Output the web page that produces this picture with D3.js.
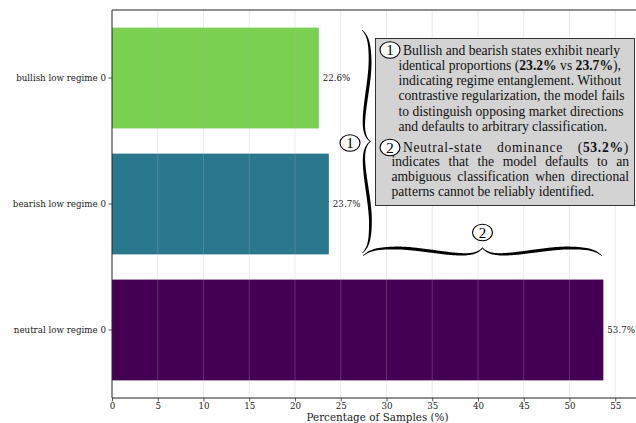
<!DOCTYPE html>
<html>
<head>
<meta charset="utf-8">
<script src="https://cdn.jsdelivr.net/npm/d3@7"></script>
<style>
  html, body { margin: 0; padding: 0; background: #ffffff; }
  svg { display: block; }
</style>
</head>
<body>
<svg id="chart" width="636" height="423"></svg>
<script>
// ---- data ----
const categories = ["bullish low regime 0", "bearish low regime 0", "neutral low regime 0"];
const percentages = [22.6, 23.7, 53.7];
const barColors = ["#7ad151", "#2a788e", "#440154"];
const xTickValues = [0, 5, 10, 15, 20, 25, 30, 35, 40, 45, 50, 55];
const xAxisTitle = "Percentage of Samples (%)";

// annotation paragraphs, one entry per line; bold runs flagged
const para1Lines = [
  [{t: "Bullish and bearish states exhibit nearly"}],
  [{t: "identical proportions ("}, {t: "23.2%", b: true}, {t: " vs "}, {t: "23.7%", b: true}, {t: "),"}],
  [{t: "indicating regime entanglement. Without"}],
  [{t: "contrastive regularization, the model fails"}],
  [{t: "to distinguish opposing market directions"}],
  [{t: "and defaults to arbitrary classification."}]
];
const para2Lines = [
  [{t: "Neutral-state dominance ("}, {t: "53.2%", b: true}, {t: ")"}],
  [{t: "indicates that the model defaults to an"}],
  [{t: "ambiguous classification when directional"}],
  [{t: "patterns cannot be reliably identified."}]
];

// ---- layout ----
const svg = d3.select("#chart");
const plot = {left: 112, right: 636, top: 10, bottom: 398};

const x = d3.scaleLinear().domain([0, 57.27]).range([plot.left, plot.right]);
const y = d3.scaleBand().domain(categories)
  .range([plot.top, plot.bottom]).paddingInner(0.2).paddingOuter(0.14);

const axisFont = "DejaVu Serif, serif";
const noteFont = "Liberation Serif, Times New Roman, serif";
const tickSize = 8.7;

// bars
svg.append("g").selectAll("rect")
  .data(categories)
  .join("rect")
  .attr("x", x(0))
  .attr("y", d => y(d))
  .attr("width", (d, i) => x(percentages[i]) - x(0))
  .attr("height", y.bandwidth())
  .attr("fill", (d, i) => barColors[i]);

// vertical grid, drawn over bars with transparency
svg.append("g").selectAll("line")
  .data(xTickValues.filter(v => v > 0))
  .join("line")
  .attr("x1", d => x(d)).attr("x2", d => x(d))
  .attr("y1", plot.top).attr("y2", plot.bottom)
  .attr("stroke", "#b0b0b0").attr("stroke-opacity", 0.3).attr("stroke-width", 0.9);

// value labels
svg.append("g").selectAll("text")
  .data(categories)
  .join("text")
  .attr("x", (d, i) => x(percentages[i]) + 4)
  .attr("y", d => y(d) + y.bandwidth() / 2)
  .attr("dy", "0.35em")
  .attr("font-family", axisFont).attr("font-size", tickSize).attr("fill", "#222")
  .text((d, i) => percentages[i].toFixed(1) + "%");

// axes
const xAxis = svg.append("g")
  .attr("transform", `translate(0,${plot.bottom})`)
  .call(d3.axisBottom(x).tickValues(xTickValues).tickSize(3.5).tickPadding(1).tickFormat(d3.format("d")));
const yAxis = svg.append("g")
  .attr("transform", `translate(${plot.left},0)`)
  .call(d3.axisLeft(y).tickSize(3.5).tickPadding(2.5));
[xAxis, yAxis].forEach(g => {
  g.select(".domain").remove();
  g.selectAll(".tick line").attr("stroke", "#333").attr("stroke-width", 0.8);
  g.selectAll("text").attr("font-family", axisFont).attr("font-size", tickSize).attr("fill", "#222");
});

// spines
const spines = svg.append("g").attr("stroke", "#222").attr("stroke-width", 1).attr("fill", "none");
spines.append("line").attr("x1", plot.left).attr("x2", plot.left).attr("y1", plot.top).attr("y2", plot.bottom);
spines.append("line").attr("x1", plot.left).attr("x2", plot.right).attr("y1", plot.bottom).attr("y2", plot.bottom);
spines.append("line").attr("x1", plot.left).attr("x2", plot.right).attr("y1", plot.top).attr("y2", plot.top);

// axis title
svg.append("text")
  .attr("x", 377.5).attr("y", 420.6)
  .attr("text-anchor", "middle")
  .attr("font-family", axisFont).attr("font-size", 10.4).attr("fill", "#222")
  .text(xAxisTitle);

// ---- curly braces ----
function smoothstep(a, b, v) {
  const t = Math.max(0, Math.min(1, (v - a) / (b - a)));
  return t * t * (3 - 2 * t);
}
function braceProfile(u) {
  return 8.2 * (1 - Math.exp(-u / 0.07)) * (1 - 0.85 * smoothstep(0.25, 0.9, u))
       + 6.8 * Math.exp(-(1 - u) / 0.05);
}
function braceWidth(u) {
  return 0.7 + 2.5 * Math.pow(Math.sin(Math.PI * Math.min(u, 0.97)), 0.6);
}
function bracePath(p1, p2, n) {
  const dx = p2[0] - p1[0], dy = p2[1] - p1[1];
  const len = Math.hypot(dx, dy);
  const tx = dx / len, ty = dy / len;
  const N = 240, upper = [], lower = [];
  for (let k = 0; k <= N; k++) {
    const s = len * k / N;
    const half = len / 2;
    const u = s <= half ? s / half : (len - s) / half;
    const d = braceProfile(u), w = braceWidth(u) / 2;
    const cx = p1[0] + tx * s + n[0] * d, cy = p1[1] + ty * s + n[1] * d;
    upper.push([cx + n[0] * w, cy + n[1] * w]);
    lower.push([cx - n[0] * w, cy - n[1] * w]);
  }
  return d3.line()(upper.concat(lower.reverse())) + "Z";
}
svg.append("path").attr("d", bracePath([362, 30], [362.5, 253], [1, 0])).attr("fill", "#000");
svg.append("path").attr("d", bracePath([363, 256], [602, 256], [0, -1])).attr("fill", "#000");

function circledNumber(cx, cy, label) {
  const g = svg.append("g");
  g.append("ellipse").attr("cx", cx).attr("cy", cy).attr("rx", 10).attr("ry", 8.3)
    .attr("fill", "#fff").attr("stroke", "#000").attr("stroke-width", 1.1);
  g.append("text").attr("x", cx).attr("y", cy).attr("dy", "0.35em")
    .attr("text-anchor", "middle").attr("font-family", noteFont).attr("font-size", 15)
    .attr("fill", "#000").text(label);
  return g;
}
circledNumber(350, 143, "1");
circledNumber(482.5, 232.5, "2");

// ---- annotation box ----
svg.append("rect")
  .attr("x", 375.5).attr("y", 38.5).attr("width", 259).attr("height", 167)
  .attr("fill", "#d3d3d3").attr("stroke", "#333").attr("stroke-width", 1);

const noteSize = 13.6;
function drawLines(lines, startY, lineGap, firstX, restX, rightX, justify) {
  lines.forEach((segs, i) => {
    const lx = i === 0 ? firstX : restX;
    const t = svg.append("text")
      .attr("x", lx).attr("y", startY + i * lineGap)
      .attr("font-family", noteFont).attr("font-size", noteSize).attr("fill", "#111")
      .attr("xml:space", "preserve");
    segs.forEach(s => {
      t.append("tspan").attr("font-weight", s.b ? "bold" : null).text(s.t);
    });
    if (justify && i < lines.length - 1) {
      // spread the remaining width over the word gaps
      if (i === 0) t.attr("letter-spacing", 0.7);
      const natural = t.node().getComputedTextLength();
      const gaps = segs.map(s => s.t).join("").split(" ").length - 1;
      const extra = (rightX - lx) - natural;
      if (gaps > 0 && extra > 0) t.attr("word-spacing", extra / gaps);
    }
  });
}
circledNumber(390, 50, "1");
drawLines(para1Lines, 54.5, 15.3, 403, 398.5, 629, false);
circledNumber(390, 147.5, "2");
drawLines(para2Lines, 151.5, 14.8, 403, 391.5, 629, true);
</script>
</body>
</html>
